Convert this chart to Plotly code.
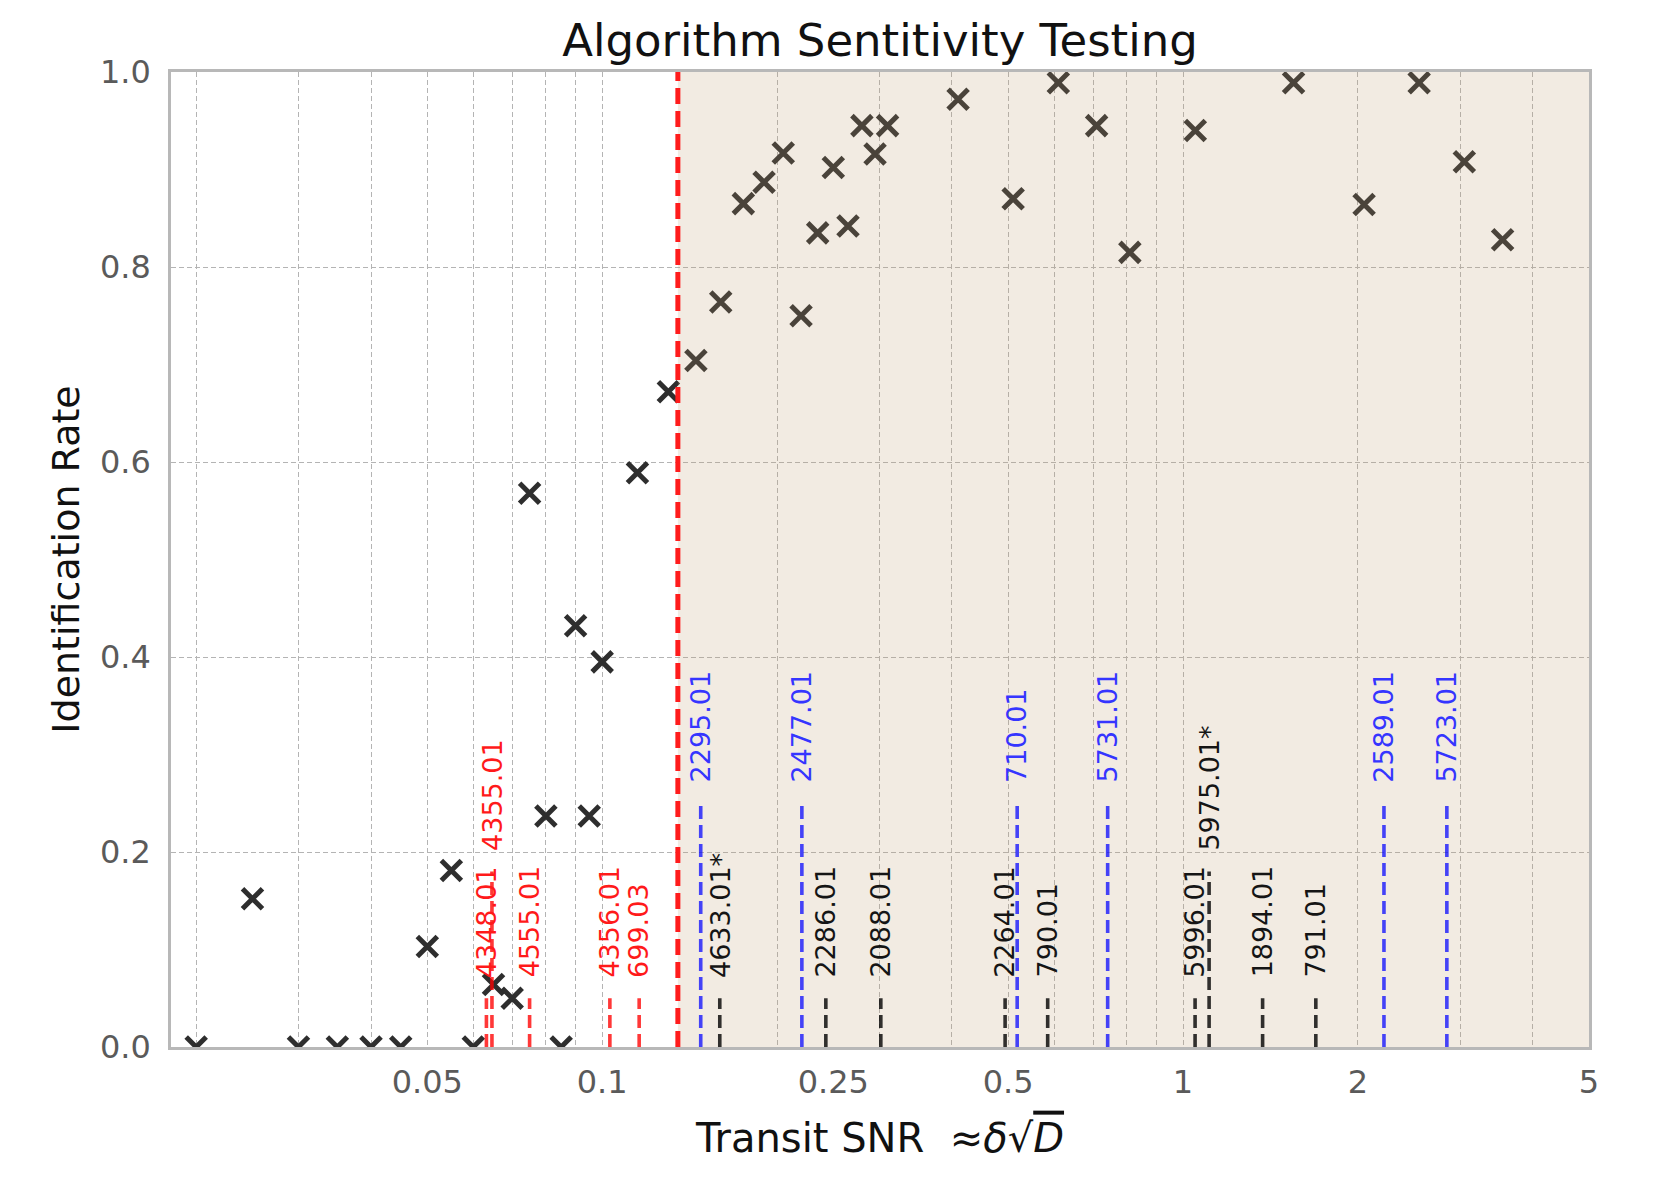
import numpy as np
import plotly.graph_objects as go

# ---------------- data ----------------
snr = [0.02, 0.025, 0.03, 0.035, 0.04, 0.045, 0.05, 0.055, 0.06, 0.065, 0.07,
       0.075, 0.08, 0.085, 0.09, 0.095, 0.1, 0.115, 0.13, 0.145, 0.16, 0.175,
       0.19, 0.205, 0.22, 0.235, 0.25, 0.265, 0.28, 0.295, 0.31, 0.41, 0.51,
       0.61, 0.71, 0.81, 1.05, 1.55, 2.05, 2.55, 3.05, 3.55]
rate = [0.0, 0.152, 0.0, 0.0, 0.0, 0.0, 0.103, 0.181, 0.0, 0.064, 0.050,
        0.568, 0.237, 0.0, 0.432, 0.237, 0.395, 0.589, 0.672, 0.704, 0.764, 0.865,
        0.887, 0.917, 0.750, 0.835, 0.902, 0.842, 0.945, 0.916, 0.945, 0.972, 0.870,
        0.989, 0.945, 0.815, 0.940, 0.989, 0.864, 0.989, 0.908, 0.828]

threshold = 0.135
x_limits = [0.0181, 5.0]

koi_names = ["4348.01", "4355.01", "4555.01", "4356.01", "699.03", "2295.01",
             "4633.01*", "2477.01", "2286.01", "2088.01", "2264.01", "710.01",
             "790.01", "5731.01", "5996.01", "5975.01*", "1894.01", "791.01",
             "2589.01", "5723.01"]
koi_snr = [0.0632, 0.0646, 0.0750, 0.1031, 0.1158, 0.1478, 0.1594, 0.2207,
           0.2427, 0.3018, 0.4940, 0.5182, 0.5848, 0.7418, 1.049, 1.109,
           1.371, 1.693, 2.218, 2.846]
koi_group = ["r", "r", "r", "r", "r", "b", "k", "b", "k", "k", "k", "b",
             "k", "b", "k", "k", "k", "k", "b", "b"]
koi_tier = [0, 1, 0, 0, 0, 2, 0, 2, 0, 0, 0, 2, 0, 2, 0, 1, 0, 0, 2, 2]

x_tick_vals = [0.05, 0.1, 0.25, 0.5, 1, 2, 5]
x_tick_text = ["0.05", "0.1", "0.25", "0.5", "1", "2", "5"]
y_tick_vals = [0.0, 0.2, 0.4, 0.6, 0.8, 1.0]

# ---------------- style ----------------
FONT = "DejaVu Sans"
tier_height = {0: 0.05, 1: 0.18, 2: 0.25}
line_col = {"r": "rgba(255,0,0,0.78)", "b": "rgba(0,0,255,0.72)", "k": "rgba(0,0,0,0.8)"}
text_col = {"r": "#ff1a1a", "b": "#3535ff", "k": "#151515"}
grid_col = "#b4b4b4"

minor_grid = [m * 10.0 ** e for e in (-2, -1, 0) for m in range(1, 10)
              if x_limits[0] < m * 10.0 ** e < x_limits[1]]

fig = go.Figure()
fig.add_trace(go.Scatter(
    x=snr, y=rate, mode="markers",
    marker=dict(symbol="x-thin", size=20, color="#2e2e2e",
                line=dict(width=5, color="#2e2e2e")),
    cliponaxis=True, showlegend=False, hoverinfo="x+y"))

shapes = []
# shaded region above threshold
shapes.append(dict(type="rect", xref="x", yref="paper", x0=threshold, x1=x_limits[1],
                   y0=0, y1=1, fillcolor="rgb(190,155,110)", opacity=0.2,
                   line=dict(width=0), layer="above"))
# threshold line
shapes.append(dict(type="line", xref="x", yref="paper", x0=threshold, x1=threshold,
                   y0=0, y1=1, line=dict(color="#ff1c1c", width=5, dash="16px,7px"),
                   layer="above"))
annotations = []
for name, xv, g, t in zip(koi_names, koi_snr, koi_group, koi_tier):
    h = tier_height[t]
    shapes.append(dict(type="line", xref="x", yref="y", x0=xv, x1=xv, y0=0, y1=h,
                       line=dict(color=line_col[g], width=3.6, dash="13px,6px"),
                       layer="above"))
    annotations.append(dict(x=np.log10(xv), y=h + 0.02, xref="x", yref="y",
                            text=name, textangle=-90, showarrow=False,
                            xanchor="center", yanchor="bottom", borderpad=0,
                            font=dict(family=FONT, size=27, color=text_col[g])))

fig.update_layout(
    width=1672, height=1185,
    margin=dict(l=171, r=83, t=72, b=138),
    paper_bgcolor="white", plot_bgcolor="white",
    font=dict(family=FONT, color="#111111"),
    title=dict(text="Algorithm Sentitivity Testing", x=0.5, xref="paper",
               y=1 - 40.0 / 1185, yref="container", xanchor="center", yanchor="middle",
               font=dict(family=FONT, size=45, color="#111111")),
    shapes=shapes, annotations=annotations,
    showlegend=False,
)
fig.update_xaxes(
    type="log", range=[np.log10(x_limits[0]), np.log10(x_limits[1])],
    tickmode="array", tickvals=x_tick_vals, ticktext=x_tick_text,
    ticks="", showgrid=False, zeroline=False,
    tickfont=dict(family=FONT, size=32, color="#5a5a5a"), ticklabelstandoff=5,
    showline=True, mirror=True, linecolor="#b8b8b8", linewidth=2.5,
    minor=dict(tickmode="array", tickvals=minor_grid, showgrid=True,
               gridcolor=grid_col, griddash="5px,3px", gridwidth=1.3, ticks=""),
    title=dict(text="Transit SNR  ≈<i>δ</i>√<span style='text-decoration:overline'><i>D</i></span>",
               font=dict(family=FONT, size=40, color="#111111"), standoff=24),
)
fig.update_yaxes(
    range=[0, 1], tickmode="array", tickvals=y_tick_vals, tickformat=".1f",
    ticks="", showgrid=True, gridcolor=grid_col, griddash="5px,3px", gridwidth=1.3,
    zeroline=False,
    tickfont=dict(family=FONT, size=32, color="#5a5a5a"), ticklabelstandoff=11,
    showline=True, mirror=True, linecolor="#b8b8b8", linewidth=2.5,
    title=dict(text="Identification Rate",
               font=dict(family=FONT, size=38, color="#111111"), standoff=9),
)

fig.write_html("out.html", config={"displayModeBar": False},
               post_script="document.body.style.margin='0';document.body.style.overflow='hidden';")
